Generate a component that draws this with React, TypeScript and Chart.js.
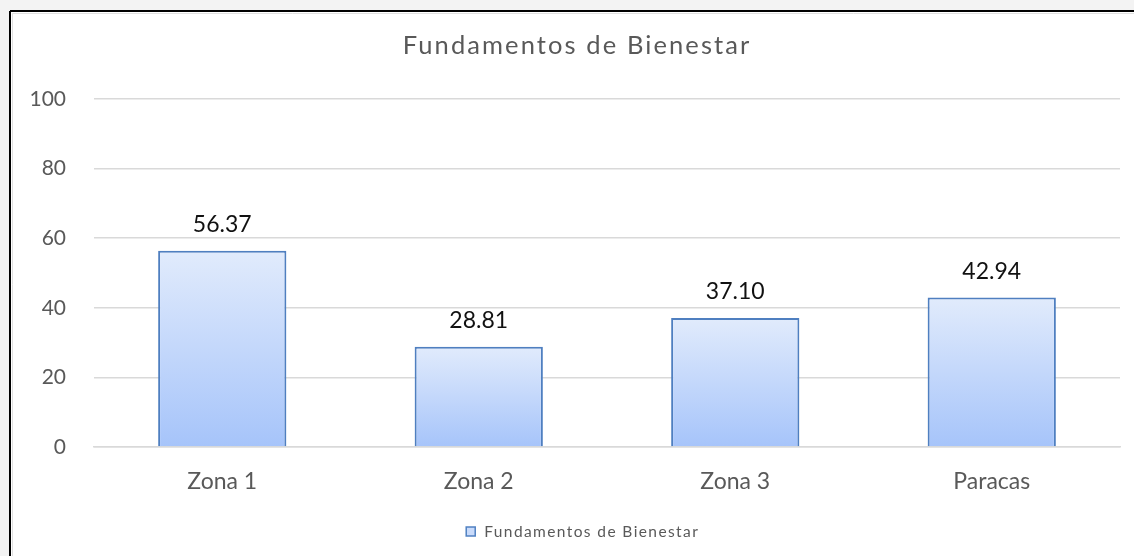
import React, { useEffect, useRef } from "react";
import { Chart, registerables } from "chart.js";

Chart.register(...registerables);

const categories = ["Zona 1", "Zona 2", "Zona 3", "Paracas"];
const values = [56.37, 28.81, 37.1, 42.94];
const seriesName = "Fundamentos de Bienestar";
const chartTitle = "Fundamentos de Bienestar";
const yTicks = [0, 20, 40, 60, 80, 100];

const FONT = "Lato, 'Open Sans', sans-serif";
const GRAY = "#595959";

const framePlugin = {
  id: "frame",
  beforeDraw(chart: any) {
    const { ctx, width, height } = chart;
    ctx.save();
    ctx.fillStyle = "#f3f3f3";
    ctx.fillRect(0, 0, width, height);
    ctx.fillStyle = "#ffffff";
    ctx.fillRect(11, 12, width - 11, height - 12);
    ctx.strokeStyle = "#e0e0e0";
    ctx.lineWidth = 1;
    ctx.beginPath();
    ctx.moveTo(12, 13.5);
    ctx.lineTo(width, 13.5);
    ctx.moveTo(12.5, 13);
    ctx.lineTo(12.5, height);
    ctx.stroke();
    ctx.strokeStyle = "#000000";
    ctx.lineWidth = 2;
    ctx.beginPath();
    ctx.moveTo(10, 11);
    ctx.lineTo(width, 11);
    ctx.moveTo(10, 11);
    ctx.lineTo(10, height);
    ctx.stroke();
    ctx.restore();
  },
};

const textPlugin = {
  id: "texts",
  afterDatasetsDraw(chart: any) {
    const { ctx } = chart;
    const meta = chart.getDatasetMeta(0);
    ctx.save();
    ctx.fillStyle = "#111111";
    ctx.font = `23px ${FONT}`;
    ctx.textAlign = "center";
    ctx.textBaseline = "alphabetic";
    meta.data.forEach((bar: any, i: number) => {
      ctx.fillText(values[i].toFixed(2), bar.x, bar.y - 19);
    });
    ctx.restore();
  },
  afterDraw(chart: any) {
    const { ctx } = chart;
    ctx.save();
    // title
    const tSp = 2.1;
    ctx.fillStyle = GRAY;
    ctx.font = `25.5px ${FONT}`;
    (ctx as any).letterSpacing = `${tSp}px`;
    ctx.textAlign = "left";
    ctx.textBaseline = "alphabetic";
    const tw = ctx.measureText(chartTitle).width - tSp;
    ctx.fillText(chartTitle, 576 - tw / 2, 54);
    // legend
    const lSp = 1.4;
    ctx.font = `15.5px ${FONT}`;
    (ctx as any).letterSpacing = `${lSp}px`;
    const lw = ctx.measureText(seriesName).width - lSp;
    const total = 9 + 9 + lw;
    const lx = 582 - total / 2;
    ctx.fillStyle = "#c9dbfb";
    ctx.fillRect(lx, 527, 9, 9);
    ctx.strokeStyle = "#5081c2";
    ctx.lineWidth = 1.5;
    ctx.strokeRect(lx, 527, 9, 9);
    ctx.fillStyle = GRAY;
    ctx.fillText(seriesName, lx + 18, 537);
    ctx.restore();
  },
};

export default function App() {
  const ref = useRef<HTMLCanvasElement>(null);
  useEffect(() => {
    const canvas = ref.current!;
    const chart = new Chart(canvas, {
      type: "bar",
      data: {
        labels: categories,
        datasets: [
          {
            label: seriesName,
            data: values,
            backgroundColor: (c: any) => {
              const ch = c.chart;
              const area = ch.chartArea;
              if (!area || c.type !== "data") return "#c5d8fa";
              const y = ch.scales.y.getPixelForValue(c.raw);
              const g = ch.ctx.createLinearGradient(0, y, 0, area.bottom);
              g.addColorStop(0, "#e1ebfc");
              g.addColorStop(1, "#a6c4fa");
              return g;
            },
            borderColor: "#4f7fc0",
            borderWidth: 2,
            borderSkipped: "bottom",
            categoryPercentage: 1,
            barPercentage: 0.5,
          },
        ],
      },
      options: {
        responsive: false,
        animation: false,
        layout: { padding: { left: 0, right: 14, top: 99, bottom: 61 } },
        plugins: {
          title: { display: false },
          legend: { display: false },
          tooltip: { enabled: false },
        },
        scales: {
          x: {
            grid: { display: false, drawTicks: false },
            border: { display: true, color: "#d9d9d9", width: 1.5 },
            afterFit(scale: any) {
              scale.height = 48;
            },
            ticks: {
              color: GRAY,
              font: { family: FONT, size: 23 },
              padding: 21,
            },
          },
          y: {
            min: 0,
            max: 100,
            afterFit(scale: any) {
              scale.width = 94;
            },
            afterBuildTicks(scale: any) {
              scale.ticks = yTicks.map((v) => ({ value: v }));
            },
            grid: { color: "#d9d9d9", lineWidth: 1.5, drawTicks: false },
            border: { display: false },
            ticks: {
              color: GRAY,
              font: { family: FONT, size: 21 },
              padding: 28,
            },
          },
        },
      },
      plugins: [framePlugin, textPlugin],
    });
    return () => chart.destroy();
  }, []);
  return (
    <div style={{ position: "fixed", left: 0, top: 0, width: 1134, height: 556, background: "#fff" }}>
      <canvas ref={ref} width={1134} height={556} style={{ display: "block" }} />
    </div>
  );
}
